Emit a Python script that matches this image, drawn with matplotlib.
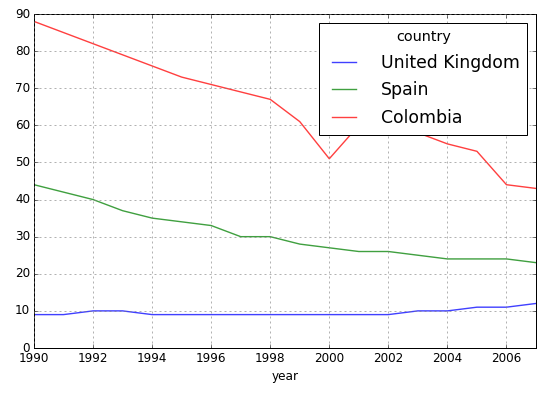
import matplotlib
matplotlib.use("Agg")
import matplotlib.pyplot as plt

plt.style.use("classic")

years = list(range(1990, 2008))
united_kingdom = [9, 9, 10, 10, 9, 9, 9, 9, 9, 9, 9, 9, 9, 10, 10, 11, 11, 12]
spain = [44, 42, 40, 37, 35, 34, 33, 30, 30, 28, 27, 26, 26, 25, 24, 24, 24, 23]
colombia = [88, 85, 82, 79, 76, 73, 71, 69, 67, 61, 51, 60, 59, 58, 55, 53, 44, 43]

fig = plt.figure(figsize=(537 / 72, 394 / 72), dpi=72)
ax = fig.add_axes([34 / 537, 46 / 394, 502 / 537, 334 / 394])

ax.plot(years, united_kingdom, color="b", lw=1.4, alpha=0.75, label="United Kingdom")
ax.plot(years, spain, color="g", lw=1.4, alpha=0.75, label="Spain")
ax.plot(years, colombia, color="r", lw=1.4, alpha=0.75, label="Colombia")

ax.set_xlim(1990, 2007)
ax.set_ylim(0, 90)
ax.set_xticks(range(1990, 2007, 2))
ax.ticklabel_format(useOffset=False, axis="x")
ax.set_xlabel("year")
ax.grid(True, color="0.5", linestyle="--", dashes=(2, 3), lw=0.6)
leg = ax.legend(title="country", loc="upper right", fontsize=17.3,
                title_fontsize=14.4, borderaxespad=0.5, borderpad=0.45,
                labelspacing=0.55, handletextpad=1.1)
leg.get_frame().set_linewidth(1.0)

fig.savefig("out.png", dpi=72)
